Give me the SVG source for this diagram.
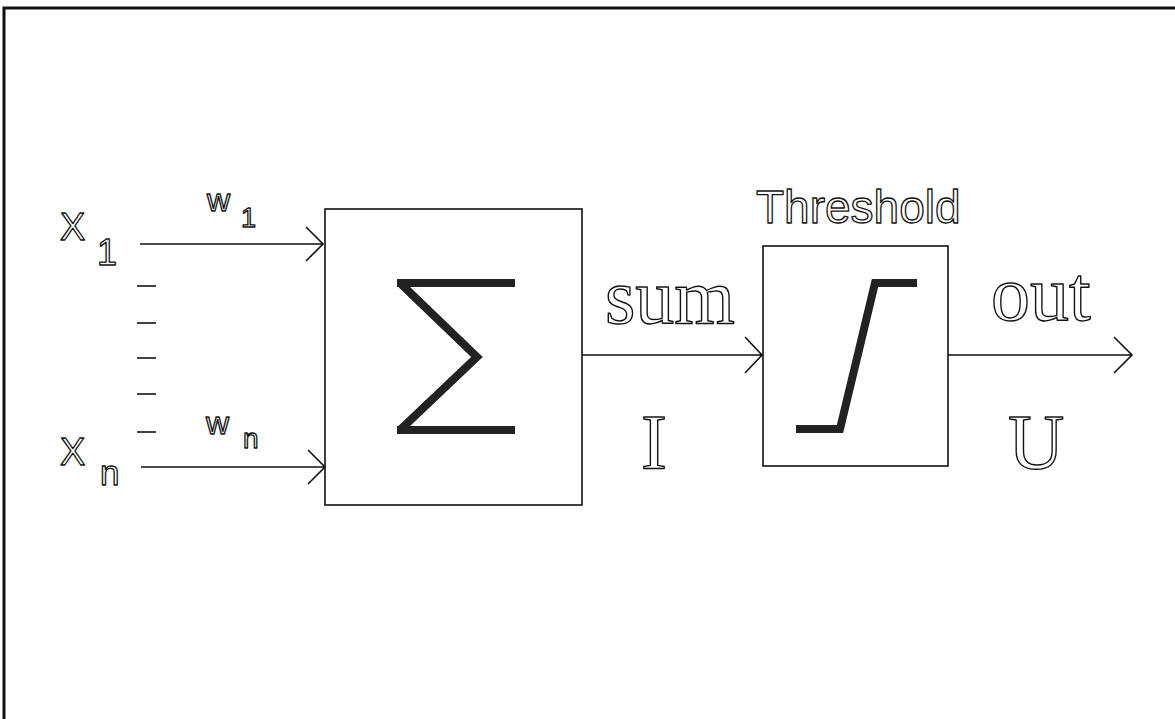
<svg xmlns="http://www.w3.org/2000/svg" width="1175" height="719" viewBox="0 0 1175 719">
<defs>
<style>
.ln{stroke:#111;stroke-width:1.6;fill:none}
.box{stroke:#111;stroke-width:1.6;fill:none}
.thick{stroke:#222;stroke-width:8;fill:none;stroke-linejoin:miter}
.sans{font-family:"Liberation Sans",Arial,sans-serif;fill:#fff;stroke:#111;stroke-width:1.3;stroke-linejoin:round}
.serif{font-family:"Liberation Serif","Times New Roman",serif;fill:#fff;stroke:#111;stroke-width:1.4;stroke-linejoin:round;font-size:78px}
</style>
</defs>
<rect x="0" y="0" width="1175" height="719" fill="#fff"/>
<path d="M4,719 V8 H1175" stroke="#111" stroke-width="3" fill="none"/>

<g id="inputs">
<text class="sans" x="60" y="240" font-size="38">X</text>
<text class="sans" x="97" y="265" font-size="36">1</text>
<text class="sans" x="60" y="465" font-size="38">X</text>
<text class="sans" x="100" y="485" font-size="35">n</text>
<g class="ln">
<line x1="137" y1="286" x2="156" y2="286"/>
<line x1="137" y1="323" x2="156" y2="323"/>
<line x1="137" y1="358" x2="156" y2="358"/>
<line x1="137" y1="394" x2="156" y2="394"/>
<line x1="137" y1="432" x2="156" y2="432"/>
</g>
</g>

<g id="weights">
<text class="sans" x="207" y="211" font-size="32">w</text>
<text class="sans" x="241" y="227" font-size="27">1</text>
<text class="sans" x="206" y="434" font-size="32">w</text>
<text class="sans" x="243" y="448" font-size="28">n</text>
</g>

<g id="sum-node">
<rect class="box" x="325" y="209" width="257" height="296"/>
<path class="thick" d="M397,283 H515 M400,283 L477,357 L400,430 M397,430 H515"/>
</g>

<g id="threshold-node">
<text class="sans" x="756" y="223" font-size="46">Threshold</text>
<rect class="box" x="763" y="246" width="185" height="220"/>
<path class="thick" d="M796,429 H840 L875,283 H917"/>
</g>

<g id="labels">
<text class="serif" x="605" y="323">sum</text>
<text class="serif" x="641" y="468">I</text>
<text class="serif" x="991" y="320">out</text>
<text class="serif" x="1008" y="468">U</text>
</g>

<g id="connectors" class="ln">
<path d="M140,244 H323 M306,227 L323,244 L306,261"/>
<path d="M141,467 H325 M308,450 L325,467 L308,484"/>
<path d="M582,355 H762 M745,337 L762,355 L745,373"/>
<path d="M948,355 H1132 M1114,337 L1132,355 L1114,373"/>
</g>
</svg>
